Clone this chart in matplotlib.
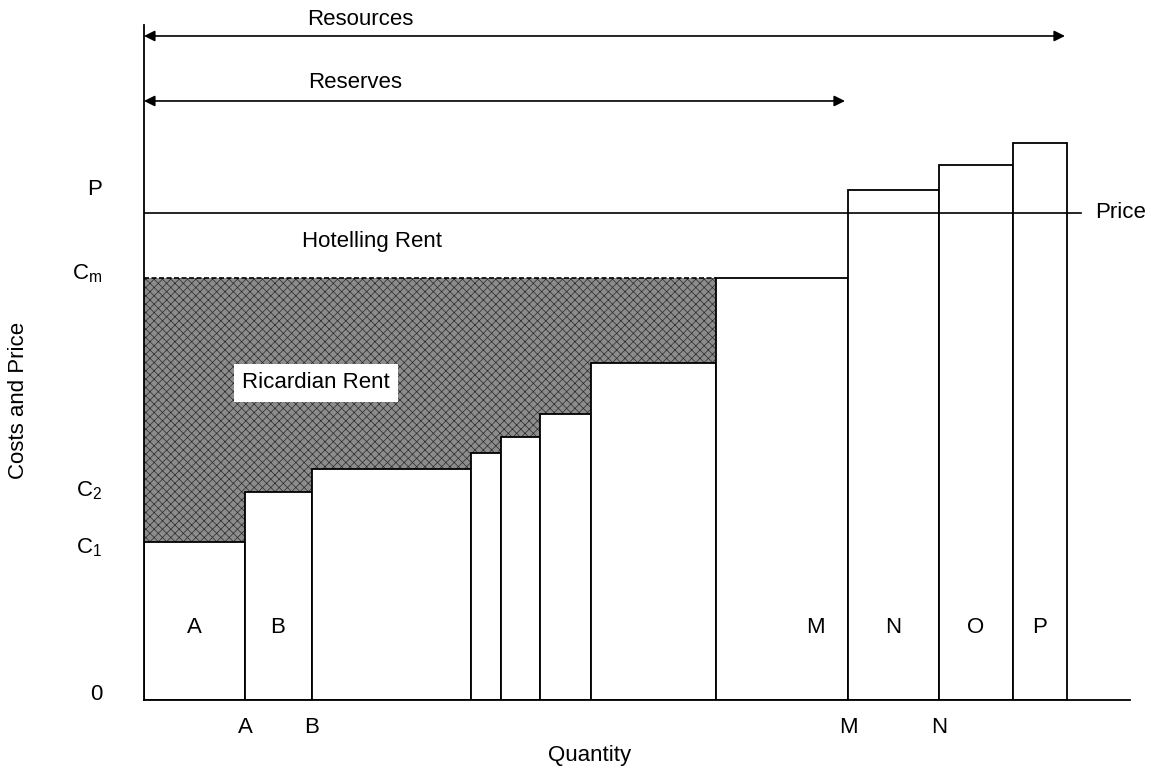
import numpy as np
import matplotlib
matplotlib.use('Agg')
import matplotlib.pyplot as plt

plt.rcParams['font.family'] = ['Liberation Sans', 'DejaVu Sans']
plt.rcParams['mathtext.fontset'] = 'custom'
plt.rcParams['mathtext.rm'] = 'Liberation Sans'
plt.rcParams['mathtext.it'] = 'Liberation Sans'
plt.rcParams['hatch.linewidth'] = 0.5

# deposits ordered by extraction cost (widths = quantity, heights = unit cost)
widths = [10.1, 6.7, 15.9, 3.0, 3.9, 5.1, 12.5, 13.2, 9.1, 7.4, 5.4]
costs = [15.8, 20.8, 23.1, 24.7, 26.3, 28.6, 33.7, 42.2, 51.0, 53.5, 55.7]
bar_labels = ['A', 'B', '', '', '', '', '', 'M', 'N', 'O', 'P']
label_x = [5.0, 13.4, None, None, None, None, None, 67.1, 74.9, 83.2, 89.6]
price = 48.7
n_reserves = 8   # deposits A..M are reserves

ytick_pos = [0.8, 15.5, 21.2, 42.9, 51.3]
ytick_lab = ['0', r'C$_1$', r'C$_2$', r'C$_\mathrm{m}$', 'P']
xtick_lab = ['A', 'B', 'M', 'N']

edges = np.concatenate([[0], np.cumsum(widths)])
lefts = edges[:-1]
cm = costs[n_reserves - 1]
fs = 16

fig = plt.figure(figsize=(11.51, 7.71), dpi=100)
ax = fig.add_axes([0.1251, 0.0921, 0.8566, 0.8755])
ax.set_xlim(0, 98.6)
ax.set_ylim(0, 67.5)

# Ricardian rent shading between step costs and Cm
ax.fill_between(edges[:n_reserves], costs[:n_reserves - 1] + [costs[n_reserves - 2]], cm,
                step='post', facecolor='#8c8c8c', edgecolor='#2a2a2a', hatch='xxxx', lw=0, zorder=1)
ax.plot([0, edges[n_reserves - 1]], [cm, cm], color='k', lw=1.2, ls=(0, (3, 1.5)), zorder=3)

ax.bar(lefts, costs, width=widths, align='edge', facecolor='white', edgecolor='black', lw=1.3, zorder=2)
for lab, x in zip(bar_labels, label_x):
    if lab:
        ax.text(x, 7.2, lab, ha='center', va='center', fontsize=fs)

# price line
ax.plot([0, 93.7], [price, price], color='k', lw=1.2, zorder=4)
ax.text(95.1, price, 'Price', ha='left', va='center', fontsize=fs, clip_on=False)

ax.text(22.8, 45.8, 'Hotelling Rent', ha='center', va='center', fontsize=fs)
ax.text(17.2, 31.7, 'Ricardian Rent', ha='center', va='center', fontsize=fs, zorder=5,
        bbox=dict(facecolor='white', edgecolor='none', pad=6))

# reserves / resources arrows
ax.annotate('', xy=(edges[-1] - 0.2, 66.4), xytext=(0, 66.4),
            arrowprops=dict(arrowstyle='<|-|>', color='k', lw=1.2, mutation_scale=16,
                            shrinkA=0, shrinkB=0), annotation_clip=False)
ax.text(21.6, 68.0, 'Resources', ha='center', va='center', fontsize=fs, clip_on=False)
ax.annotate('', xy=(edges[n_reserves] - 0.3, 59.9), xytext=(0, 59.9),
            arrowprops=dict(arrowstyle='<|-|>', color='k', lw=1.2, mutation_scale=16,
                            shrinkA=0, shrinkB=0), annotation_clip=False)
ax.text(21.1, 61.7, 'Reserves', ha='center', va='center', fontsize=fs, clip_on=False)

for s in ['top', 'right']:
    ax.spines[s].set_visible(False)
ax.spines['left'].set_linewidth(1.3)
ax.spines['bottom'].set_linewidth(1.3)

ax.set_xticks([edges[1], edges[2], edges[8], edges[9]])
ax.set_xticklabels(xtick_lab, fontsize=fs)
ax.set_yticks(ytick_pos)
ax.set_yticklabels(ytick_lab, fontsize=fs)
ax.tick_params(axis='x', length=0, pad=12)
ax.tick_params(axis='y', length=0, pad=30)

fig.text(590 / 1151, 1 - 756 / 771, 'Quantity', ha='center', va='center', fontsize=fs)
fig.text(19 / 1151, 1 - 400 / 771, 'Costs and Price', ha='center', va='center', rotation=90, fontsize=fs)

fig.savefig('out.png', dpi=100)
